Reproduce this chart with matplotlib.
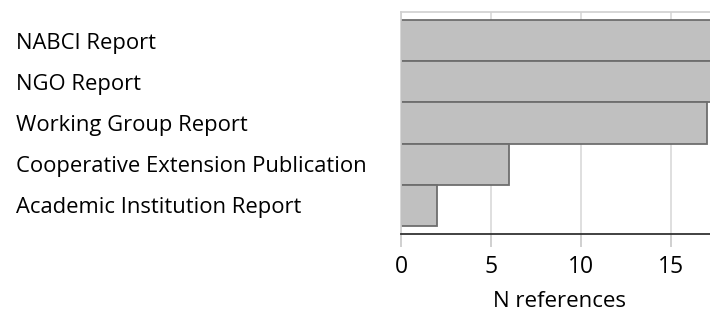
import matplotlib.pyplot as plt
import numpy as np

plt.rcParams['font.family'] = ['Open Sans', 'DejaVu Sans']

categories = ["NABCI Report", "NGO Report", "Working Group Report",
              "Cooperative Extension Publication", "Academic Institution Report"]
counts = [20, 19, 17, 6, 2]

fig = plt.figure(figsize=(7.1, 3.12), dpi=100)
ax = fig.add_axes([401 / 710, 1 - 234 / 312, 1 - 401 / 710 + 0.01, (234 - 12) / 312])

y = np.arange(len(categories))
ax.barh(y, counts, height=1.0, color="#c0c0c0", edgecolor="#6e6e6e", linewidth=1.3, zorder=2)

ax.set_xlim(0, 17.55)
ax.set_ylim(len(categories) - 0.3, -0.7)
ax.set_xticks([0, 5, 10, 15])
ax.xaxis.grid(True, color="#d9d9d9", linewidth=1.2, zorder=0)
ax.set_yticks(y)
ax.set_yticklabels(categories, ha="left", fontsize=15.8)
ax.tick_params(axis="y", length=0, pad=277)
ax.tick_params(axis="x", length=9, width=1.2, color="#c8c8c8", labelsize=16.5, pad=6)
ax.set_xlabel("N references", fontsize=16, labelpad=9)

for s in ["top", "left", "right"]:
    ax.spines[s].set_color("#d0d0d0")
    ax.spines[s].set_linewidth(1.2)
ax.spines["right"].set_visible(False)
ax.spines["bottom"].set_color("#333333")
ax.spines["bottom"].set_linewidth(1.3)

fig.savefig("out.png", dpi=100)
